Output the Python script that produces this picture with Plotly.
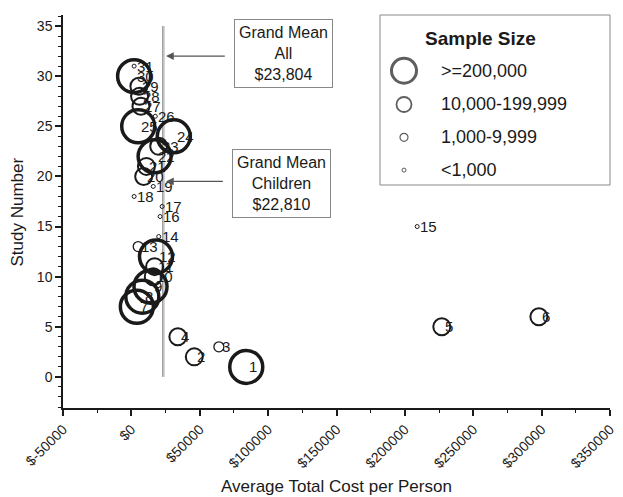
import plotly.graph_objects as go

# ---- data ----
study = list(range(1, 32))
cost = [84000, 46000, 64000, 34000, 227000, 298000, 4000, 8000, 14000, 16000,
        17000, 18000, 5000, 20000, 209000, 21000, 22500, 2000, 16000, 9000,
        11000, 17000, 20000, 31000, 5000, 17500, 7000, 6000, 5500, 2000, 2000]
# sample size group: 0 = >=200,000, 1 = 10,000-199,999, 2 = 1,000-9,999, 3 = <1,000
group = [0, 1, 2, 1, 1, 1, 0, 0, 0, 1,
         1, 0, 2, 3, 3, 3, 3, 3, 3, 1,
         1, 0, 1, 0, 0, 3, 1, 1, 1, 0, 3]
group_labels = [">=200,000", "10,000-199,999", "1,000-9,999", "<1,000"]
grand_mean_all = 23804
grand_mean_children = 22810
x_tickvals = [-50000, 0, 50000, 100000, 150000, 200000, 250000, 300000, 350000]
x_ticktext = ["$" + str(v) for v in x_tickvals]
y_tickvals = [0, 5, 10, 15, 20, 25, 30, 35]

# ---- styles ----
FONT = "Liberation Sans, Arial, sans-serif"
INK = "#1a1a1a"
msize = {0: 33, 1: 17, 2: 10, 3: 4}
mline = {0: 3.5, 1: 2.0, 2: 1.3, 3: 1.0}
leg_size = {0: 25, 1: 15, 2: 8, 3: 4}
leg_line = {0: 3.0, 1: 1.8, 2: 1.2, 3: 1.0}

fig = go.Figure()

# grand mean lines
for gm in (grand_mean_children, grand_mean_all):
    fig.add_trace(go.Scatter(x=[gm, gm], y=[0, 35], mode="lines",
                             line=dict(color="#9a9a9a", width=1),
                             showlegend=False, hoverinfo="skip"))

# points by group (small first, large on top)
for g in (3, 2, 1, 0):
    xs = [c for c, gg in zip(cost, group) if gg == g]
    ys = [s for s, gg in zip(study, group) if gg == g]
    fig.add_trace(go.Scatter(
        x=xs, y=ys, mode="markers", showlegend=False,
        marker=dict(symbol="circle-open", size=msize[g], color=INK,
                    line=dict(width=mline[g], color=INK))))

annotations = []
for c, s in zip(cost, study):
    annotations.append(dict(x=c, y=s, xref="x", yref="y", text=str(s),
                            showarrow=False, xanchor="left", yanchor="middle",
                            xshift=1, font=dict(family=FONT, size=15, color=INK)))

# grand mean boxes and arrows
annotations += [
    dict(x=111500, y=32.25, xref="x", yref="y",
         text="Grand Mean<br>All<br>$23,804", showarrow=False,
         font=dict(family=FONT, size=16, color=INK), bordercolor="#888",
         borderwidth=1, borderpad=4, bgcolor="white", align="center"),
    dict(x=110000, y=19.3, xref="x", yref="y",
         text="Grand Mean<br>Children<br>$22,810", showarrow=False,
         font=dict(family=FONT, size=16, color=INK), bordercolor="#888",
         borderwidth=1, borderpad=4, bgcolor="white", align="center"),
    dict(x=25300, y=32, ax=69400, ay=32, xref="x", yref="y", axref="x", ayref="y",
         text="", showarrow=True, arrowhead=2, arrowsize=1.3, arrowwidth=1.2,
         arrowcolor="#555", standoff=0, startstandoff=0),
    dict(x=25300, y=19.5, ax=68000, ay=19.5, xref="x", yref="y", axref="x", ayref="y",
         text="", showarrow=True, arrowhead=2, arrowsize=1.3, arrowwidth=1.2,
         arrowcolor="#555", standoff=0, startstandoff=0),
    # axis titles
    dict(x=0.5, y=-0.201, xref="paper", yref="paper", text="Average Total Cost per Person",
         showarrow=False, xanchor="center", yanchor="middle",
         font=dict(family=FONT, size=17, color=INK)),
    dict(x=-0.0823, y=0.5, xref="paper", yref="paper", text="Study Number",
         showarrow=False, xanchor="center", yanchor="middle", textangle=-90,
         font=dict(family=FONT, size=17, color=INK)),
]

# custom legend on hidden axes
leg_rows = [56, 90, 123, 156]
fig.add_trace(go.Scatter(
    x=[24] * 4, y=leg_rows, mode="markers", xaxis="x2", yaxis="y2",
    showlegend=False, hoverinfo="skip",
    marker=dict(symbol="circle-open", size=[leg_size[g] for g in range(4)],
                color=INK, line=dict(width=[leg_line[g] for g in range(4)], color=INK))))
for g, yy in enumerate(leg_rows):
    annotations.append(dict(x=59, y=yy, xref="x2", yref="y2", text=group_labels[g],
                            showarrow=False, xanchor="left", yanchor="middle",
                            font=dict(family=FONT, size=18, color=INK)))
annotations.append(dict(x=101, y=24, xref="x2", yref="y2", text="<b>Sample Size</b>",
                        showarrow=False, xanchor="center", yanchor="middle",
                        font=dict(family=FONT, size=19, color=INK)))

fig.update_layout(
    width=623, height=497,
    margin=dict(l=63, r=13, t=15, b=89, autoexpand=False),
    paper_bgcolor="white", plot_bgcolor="white",
    font=dict(family=FONT, color=INK),
    annotations=annotations,
    shapes=[dict(type="rect", xref="paper", yref="paper",
                 x0=0.5795, x1=1.0, y0=0.5674, y1=1.0,
                 line=dict(color="#888", width=1))],
    xaxis=dict(range=[-50000, 350000], tickvals=x_tickvals, ticktext=x_ticktext,
               tickangle=-45, ticks="outside", ticklen=6, tickwidth=1.5,
               tickcolor=INK, showline=True, linecolor=INK, linewidth=1.5,
               showgrid=False, zeroline=False, automargin=False,
               tickfont=dict(family=FONT, size=14, color=INK),
               minor=dict(dtick=25000, tick0=0, ticks="outside", ticklen=3,
                          tickwidth=1.2, tickcolor=INK, showgrid=False)),
    yaxis=dict(range=[-3.1, 36.1], tickvals=y_tickvals,
               ticks="outside", ticklen=6, tickwidth=1.5,
               tickcolor=INK, showline=True, linecolor=INK, linewidth=1.5,
               showgrid=False, zeroline=False, automargin=False,
               tickfont=dict(family=FONT, size=14, color=INK),
               minor=dict(dtick=1, tick0=0, ticks="outside", ticklen=3,
                          tickwidth=1.2, tickcolor=INK, showgrid=False)),
    xaxis2=dict(domain=[0.5795, 1.0], range=[0, 230], visible=False, anchor="y2",
                fixedrange=True),
    yaxis2=dict(domain=[0.5674, 1.0], range=[171, 0], visible=False, anchor="x2",
                fixedrange=True),
)

fig.write_html("out.html")
